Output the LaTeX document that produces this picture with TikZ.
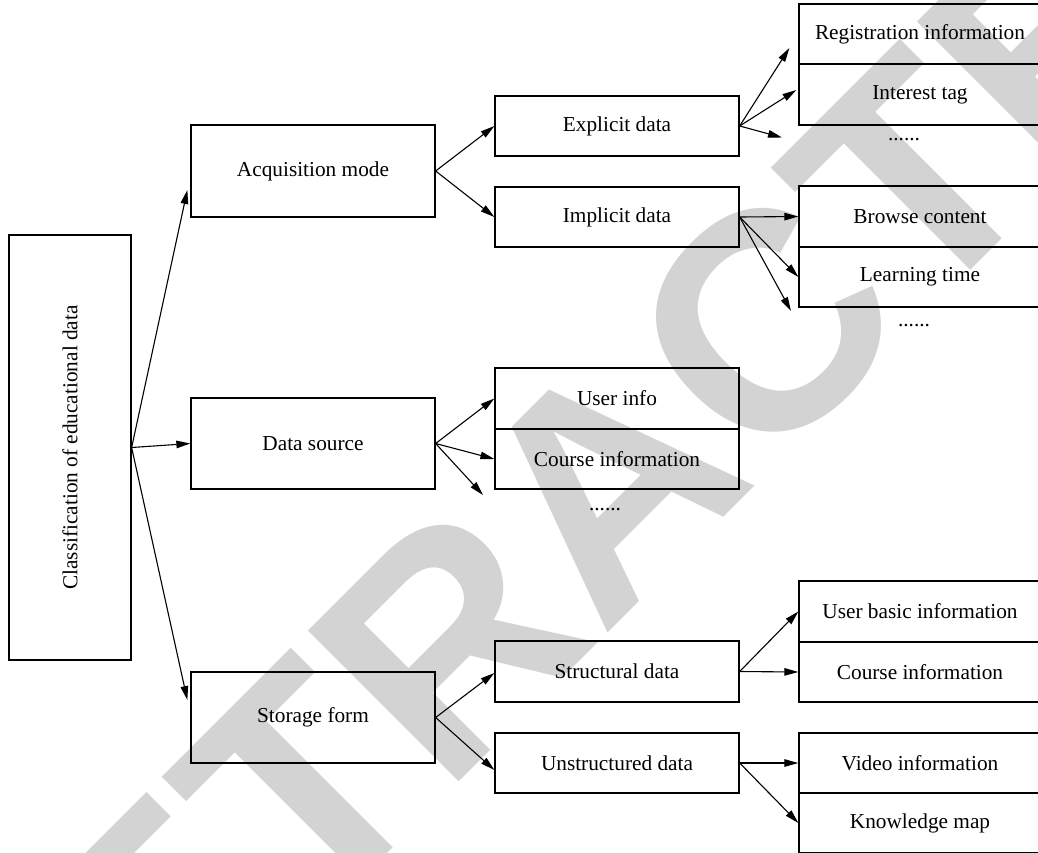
\documentclass[tikz,border=0pt]{standalone}
\usepackage{fontspec}
\setmainfont{Liberation Serif}
\newfontfamily\markfont{Liberation Sans}
\usetikzlibrary{arrows.meta,calc}
\definecolor{markgray}{RGB}{211,211,211}

\begin{document}
\begin{tikzpicture}[x=1pt,y=-1pt,
  font=\fontsize{21.3}{25}\selectfont,
  box/.style={draw, line width=1.3pt, inner sep=0pt, anchor=center,
              minimum width=244pt, minimum height=60pt},
  bigbox/.style={box, minimum height=91pt},
  leaf/.style={box, minimum width=242pt},
  dots/.style={anchor=base, inner sep=0pt},
  arr/.style={line width=1.1pt, -{Triangle[length=14pt,width=7.5pt]}}]

\useasboundingbox (0,0) rectangle (1038,852);
\clip (0,0) rectangle (1038,852);

% watermark behind the chart
\node[rotate=45, anchor=base, text=markgray, inner sep=0pt,
      font=\markfont\bfseries\fontsize{310}{310}\selectfont] (mark) at (682,559) {RETRACTED};

% root
\node[box, minimum width=122pt, minimum height=425pt] (root) at (70,447.5)
  {\rotatebox{90}{Classification of educational data}};

% first level
\node[bigbox, minimum height=92pt] (acq) at (313,171) {Acquisition mode};
\node[bigbox] (src) at (313,443.5) {Data source};
\node[bigbox] (sto) at (313,717.5) {Storage form};

% second level
\node[box] (exp) at (617,126) {Explicit data};
\node[box] (imp) at (617,217) {Implicit data};
\node[box, minimum height=61pt] (usr) at (617,398.5) {User info};
\node[box] (crs) at (617,459) {Course information};
\node[box, minimum height=61pt] (str) at (617,671.5) {Structural data};
\node[box] (uns) at (617,763) {Unstructured data};

% third level
\node[leaf] (reg) at (920,34) {Registration information};
\node[leaf, minimum height=61pt] (int) at (920,94.5) {Interest tag};
\node[leaf, minimum height=61pt] (brw) at (920,216.5) {Browse content};
\node[leaf] (lrn) at (920,277) {Learning time};
\node[leaf, minimum height=61pt] (ubi) at (920,611.5) {User basic information};
\node[leaf] (cin) at (920,672) {Course information};
\node[leaf] (vid) at (920,763) {Video information};
\node[leaf] (kmp) at (920,823) {Knowledge map};

% ellipses for further items
\node[dots] (d1) at (904,140) {......};
\node[dots] (d2) at (914,326) {......};
\node[dots] (d3) at (605,510) {......};

% open arrow ends
\coordinate (e3) at (782,137.5);
\coordinate (i3) at (791,311);
\coordinate (s3) at (483,495);

% connectors
\draw[arr] (root.east) -- ($(acq.west)+(-3,19)$);
\draw[arr] (root.east) -- (src.west);
\draw[arr] (root.east) -- ($(sto.west)+(-3,-17.5)$);

\draw[arr] (acq.east) -- (exp.west);
\draw[arr] (acq.east) -- (imp.west);
\draw[arr] (src.east) -- (usr.west);
\draw[arr] (src.east) -- (crs.west);
\draw[arr] (src.east) -- (s3);
\draw[arr] (sto.east) -- ($(str.west)+(0,1.5)$);
\draw[arr] (sto.east) -- ($(uns.west)+(0,7)$);

\draw[arr] (exp.east) -- ($(reg.west)+(-9,14)$);
\draw[arr] (exp.east) -- ($(int.west)+(-2,-4.5)$);
\draw[arr] (exp.east) -- (e3);
\draw[arr] (imp.east) -- (brw.west);
\draw[arr] (imp.east) -- (lrn.west);
\draw[arr] (imp.east) -- (i3);
\draw[arr] (str.east) -- (ubi.west);
\draw[arr] (str.east) -- (cin.west);
\draw[arr] (uns.east) -- (vid.west);
\draw[arr] (uns.east) -- (kmp.west);
\end{tikzpicture}
\end{document}
